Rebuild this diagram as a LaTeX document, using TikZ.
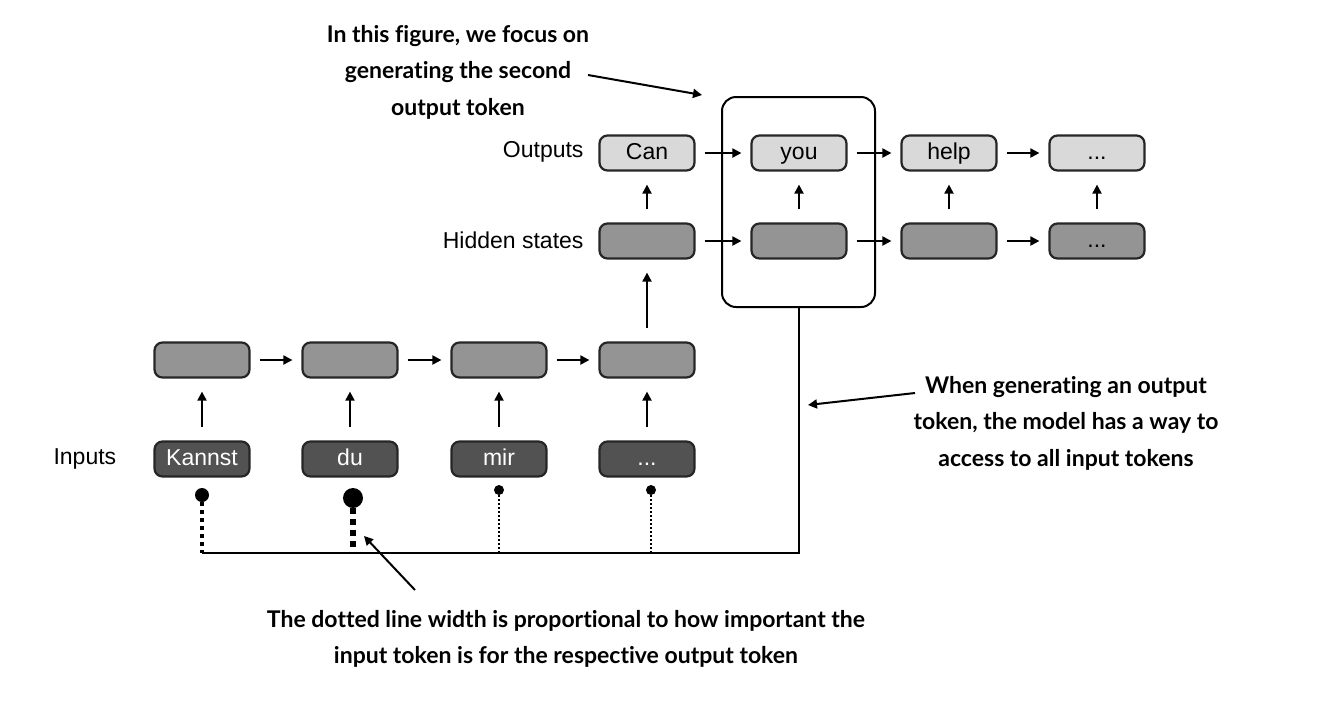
\documentclass[tikz,border=0pt]{standalone}
\usepackage{fontspec}
\setmainfont{Liberation Sans}
\newfontfamily\annfont{Lato}[Ligatures=NoCommon]
\usetikzlibrary{arrows.meta}
\begin{document}
\begin{tikzpicture}[x=1pt,y=-1pt,
  box/.style={draw=black!85,line width=2.2pt,rounded corners=8pt,minimum width=95pt,minimum height=35pt,inner sep=0pt,text height=16pt,text depth=4pt,font=\fontsize{23}{26}\selectfont},
  outbox/.style={box,fill=black!15},
  hidbox/.style={box,fill=black!42},
  inbox/.style={box,fill=black!68,text=white},
  arr/.style={line width=2pt,-{Triangle[length=9pt,width=9pt]}},
  lab/.style={font=\fontsize{23}{26}\selectfont},
  ann/.style={font=\annfont\bfseries\fontsize{23}{36.5}\selectfont,align=center},
  dot/.style={circle,fill=black,inner sep=0pt}]
\useasboundingbox (0,0) rectangle (1325,724);
% input row
\node[inbox] (i1) at (202,459) {Kannst};
\node[inbox] (i2) at (350,459) {du};
\node[inbox] (i3) at (499,459) {mir};
\node[inbox] (i4) at (647,459) {...};
% encoder hidden
\node[hidbox] (e1) at (202,360) {};
\node[hidbox] (e2) at (350,360) {};
\node[hidbox] (e3) at (499,360) {};
\node[hidbox] (e4) at (647,360) {};
% decoder hidden
\node[hidbox] (h1) at (647,241) {};
\node[hidbox] (h2) at (799,241) {};
\node[hidbox] (h3) at (949,241) {};
\node[hidbox] (h4) at (1097,241) {...};
% outputs
\node[outbox] (o1) at (647,153) {Can};
\node[outbox] (o2) at (799,153) {you};
\node[outbox] (o3) at (949,153) {help};
\node[outbox] (o4) at (1097,153) {...};
% labels
\node[lab,anchor=east] (lo) at (587,152) {Outputs};
\node[lab,anchor=east] (lh) at (587,240) {Hidden states};
\node[lab,anchor=west] (li) at (50,459) {Inputs};
% focus box
\node[draw,line width=2pt,rounded corners=14pt,minimum width=153pt,minimum height=210pt] (focus) at (798.5,202) {};
% arrows
\foreach \a/\b in {e1/e2,e2/e3,e3/e4,h1/h2,h2/h3,h3/h4,o1/o2,o2/o3,o3/o4}
  \draw[arr,shorten <=9pt,shorten >=9pt] (\a) -- (\b);
\foreach \a/\b in {i1/e1,i2/e2,i3/e3,i4/e4,e4/h1,h1/o1,h2/o2,h3/o3,h4/o4}
  \draw[arr,shorten <=13pt,shorten >=13pt] (\a) -- (\b);
% attention dots
\coordinate (base) at (202,553);
\node[dot,minimum size=14pt] (d1) at (202,495) {};
\node[dot,minimum size=20pt] (d2) at (353,498) {};
\node[dot,minimum size=10pt] (d3) at (499,490) {};
\node[dot,minimum size=10pt] (d4) at (651,490) {};
\draw[line width=4pt,dash pattern=on 4pt off 4pt] (d1) -- (d1 |- base);
\draw[line width=6.5pt,dash pattern=on 6pt off 5pt] (d2) -- (d2 |- base);
\draw[line width=2pt,dash pattern=on 2pt off 2pt] (d3) -- (d3 |- base);
\draw[line width=2pt,dash pattern=on 2pt off 2pt] (d4) -- (d4 |- base);
\draw[line width=2pt] (focus.south) |- (base);
% annotations
\node[ann] (t1) at (458,72) {In this figure, we focus on\\generating the second\\output token};
\node[ann] (t2) at (1066,423) {When generating an output\\token, the model has a way to\\access to all input tokens};
\node[ann] (t3) at (566,639) {The dotted line width is proportional to how important the\\input token is for the respective output token};
\coordinate (a1s) at (588,75);
\coordinate (a1e) at (702,95);
\draw[arr] (a1s) -- (a1e);
\coordinate (a2s) at (915,393);
\coordinate (a2e) at (808,405);
\draw[arr] (a2s) -- (a2e);
\coordinate (a3s) at (415,590);
\coordinate (a3e) at (364,536);
\draw[arr] (a3s) -- (a3e);
\end{tikzpicture}
\end{document}
